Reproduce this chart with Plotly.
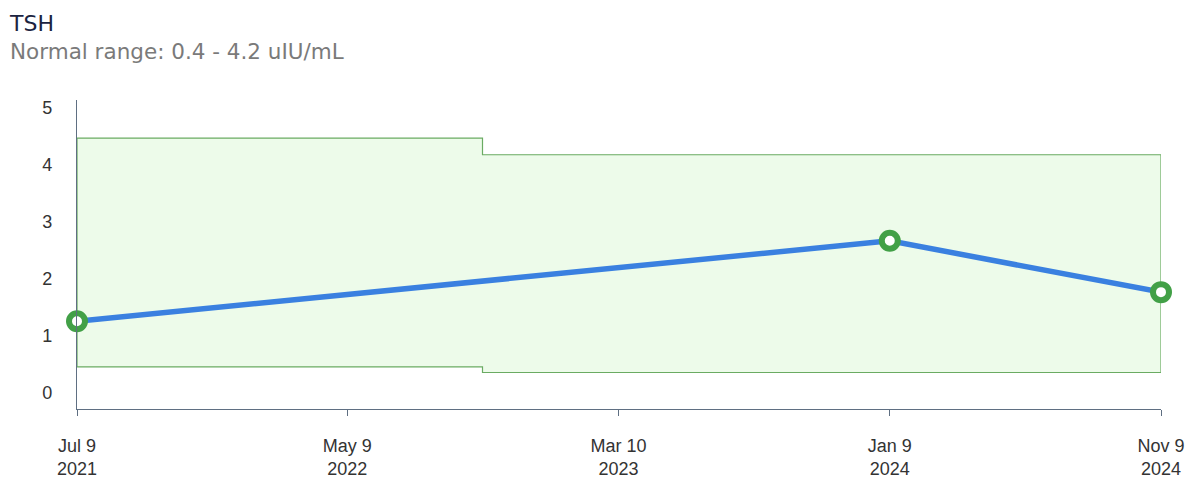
import plotly.graph_objects as go

# Measurements
dates = ["2021-07-09", "2024-01-09", "2024-11-09"]
values = [1.26, 2.67, 1.77]

# Reference range segments (start dates, end date)
range_starts = ["2021-07-09", "2022-10-08"]
range_end = "2024-11-09"
range_low = [0.46, 0.36]
range_high = [4.47, 4.18]

# Axis ticks
x_tickvals = ["2021-07-09", "2022-05-09", "2023-03-10", "2024-01-09", "2024-11-09"]
x_ticktext = ["Jul 9<br>2021", "May 9<br>2022", "Mar 10<br>2023", "Jan 9<br>2024", "Nov 9<br>2024"]
y_tickvals = [0, 1, 2, 3, 4, 5]

title_text = "TSH"
subtitle_text = "Normal range: 0.4 - 4.2 uIU/mL"

# Build band polygon
seg_x = []
seg_hi = []
seg_lo = []
bounds = range_starts + [range_end]
for i in range(len(range_starts)):
    seg_x += [bounds[i], bounds[i + 1]]
    seg_hi += [range_high[i], range_high[i]]
    seg_lo += [range_low[i], range_low[i]]
poly_x = seg_x + seg_x[::-1] + [seg_x[0]]
poly_y = seg_hi + seg_lo[::-1] + [seg_hi[0]]

fig = go.Figure()
fig.add_trace(go.Scatter(
    x=poly_x, y=poly_y, mode="lines", fill="toself",
    fillcolor="#edfbea", line=dict(color="#6aab62", width=1.2),
    hoverinfo="skip", showlegend=False,
))
fig.add_trace(go.Scatter(
    x=dates, y=values, mode="lines+markers",
    line=dict(color="#3a80e0", width=5.5),
    marker=dict(size=16, color="white", line=dict(color="#42a047", width=6)),
    showlegend=False, cliponaxis=False,
))

PW = 1084
PH = 309
fig.update_layout(
    width=1200, height=499,
    margin=dict(l=69, r=47, t=92, b=98),
    paper_bgcolor="white", plot_bgcolor="white",
    font=dict(family="Arial, Liberation Sans, sans-serif", size=18, color="#333333"),
    annotations=[
        dict(text=("<span style='font-size:22px;color:#1b2340'>" + title_text +
                   "</span><br>" + subtitle_text),
             xref="paper", yref="paper", x=-70/PW, y=1 + 62.5/PH,
             xanchor="left", yanchor="middle", align="left", showarrow=False,
             font=dict(family="DejaVu Sans, sans-serif", size=21.5, color="#7a7a7a")),
    ],
)
fig.update_xaxes(
    type="date", range=["2021-07-09", "2024-11-09"],
    tickvals=x_tickvals, ticktext=x_ticktext,
    showgrid=False, zeroline=False,
    showline=True, linecolor="#5f6f82", linewidth=1.2,
    ticks="outside", ticklen=6, tickcolor="#5f6f82",
    ticklabelstandoff=14,
)
fig.update_yaxes(
    range=[-0.28, 5.14], tickvals=y_tickvals,
    showgrid=False, zeroline=False,
    showline=True, linecolor="#5f6f82", linewidth=1.2,
    ticks="", ticklabelstandoff=20,
)

fig.write_html("out.html")
